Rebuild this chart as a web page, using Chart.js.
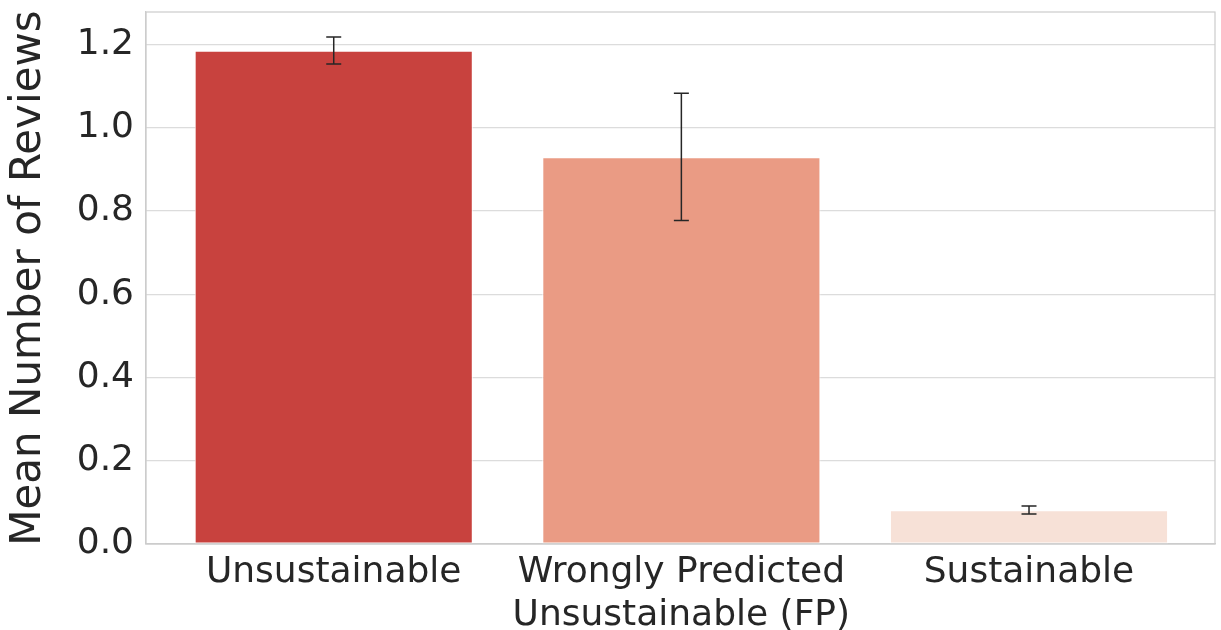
<!DOCTYPE html>
<html>
<head>
<meta charset="utf-8">
<script src="https://cdn.jsdelivr.net/npm/chart.js@4/dist/chart.umd.min.js"></script>
<style>
    html, body { margin: 0; padding: 0; background: #fff; }
    .wrapper { width: 1221px; height: 630px; }
</style>
</head>
<body>
<div class="wrapper"><canvas id="chart"></canvas></div>
<script>
// ========= DATA ===============

const categories = [
    ['Unsustainable'],
    ['Wrongly Predicted', 'Unsustainable (FP)'],
    ['Sustainable']
];
const meanReviews = [1.185, 0.929, 0.081];
const errLow = [1.153, 0.777, 0.072];
const errHigh = [1.218, 1.083, 0.091];
const barColors = ['#c8423e', '#ea9b84', '#f7e1d7'];
const yTicks = [0, 0.2, 0.4, 0.6, 0.8, 1.0, 1.2];

// ==================================

const textColor = '#262626';
const gridColor = '#dcdcdc';
const font = 'DejaVu Sans';

// cadre gris autour de la zone du graphe (haut + droite, gauche/bas = axes)
const frame = {
    id: 'frame',
    afterDraw(chart) {
        const { ctx, chartArea: a } = chart;
        ctx.save();
        ctx.strokeStyle = '#cccccc';
        ctx.lineWidth = 1.2;
        ctx.strokeRect(a.left, a.top, a.right - a.left, a.bottom - a.top);
        ctx.restore();
    }
};

// barres d'erreur
const errorBars = {
    id: 'errorBars',
    afterDatasetsDraw(chart) {
        const { ctx } = chart;
        const y = chart.scales.y;
        const meta = chart.getDatasetMeta(0);
        ctx.save();
        ctx.strokeStyle = textColor;
        ctx.lineWidth = 1.5;
        meta.data.forEach((bar, i) => {
            const top = y.getPixelForValue(errHigh[i]);
            const bot = y.getPixelForValue(errLow[i]);
            const cap = 7.5;
            ctx.beginPath();
            ctx.moveTo(bar.x, top);
            ctx.lineTo(bar.x, bot);
            ctx.moveTo(bar.x - cap, top);
            ctx.lineTo(bar.x + cap, top);
            ctx.moveTo(bar.x - cap, bot);
            ctx.lineTo(bar.x + cap, bot);
            ctx.stroke();
        });
        ctx.restore();
    }
};

const noPad = scale => {
    scale.paddingTop = 0;
    scale.paddingBottom = 0;
    scale.paddingLeft = 0;
    scale.paddingRight = 0;
};

const data = {
    datasets: [{
        label: 'Mean Number of Reviews',
        data: meanReviews.map((v, i) => ({ x: i, y: v })),
        backgroundColor: barColors,
        borderColor: '#ffffff',
        borderWidth: 1,
        borderSkipped: false,
        categoryPercentage: 1,
        barPercentage: 0.8
    }]
};

const config = {
    type: 'bar',
    data: data,
    plugins: [frame, errorBars],
    options: {
        responsive: true,
        maintainAspectRatio: false,
        animation: false,
        layout: { padding: { top: 12, right: 6, left: 0, bottom: 0 } },
        plugins: {
            legend: { display: false },
            tooltip: { enabled: false }
        },
        scales: {
            x: {
                type: 'linear',
                offset: false,
                min: -0.54,
                max: 2.535,
                afterBuildTicks: scale => { scale.ticks = categories.map((c, i) => ({ value: i })); },
                afterFit: scale => { scale.height = 86; noPad(scale); },
                grid: { display: false, offset: false },
                border: { display: true, color: '#cccccc', width: 1.2 },
                ticks: {
                    color: textColor,
                    font: { family: font, size: 36, lineHeight: 1.17 },
                    padding: 0,
                    maxRotation: 0,
                    autoSkip: false,
                    callback: (v) => categories[v]
                }
            },
            y: {
                min: 0,
                max: 1.278,
                afterBuildTicks: scale => { scale.ticks = yTicks.map(v => ({ value: v })); },
                afterFit: scale => { scale.width = 146; noPad(scale); },
                grid: { color: gridColor, lineWidth: 1.2, drawTicks: false },
                border: { display: true, color: '#cccccc', width: 1.2 },
                ticks: {
                    color: textColor,
                    font: { family: font, size: 36 },
                    padding: 12,
                    callback: v => v.toFixed(1)
                },
                title: {
                    display: true,
                    text: 'Mean Number of Reviews',
                    color: textColor,
                    font: { family: font, size: 42 },
                    padding: { top: 4, bottom: 0 }
                }
            }
        }
    }
};

const chart = new Chart(document.querySelector('#chart'), config);
</script>
</body>
</html>
